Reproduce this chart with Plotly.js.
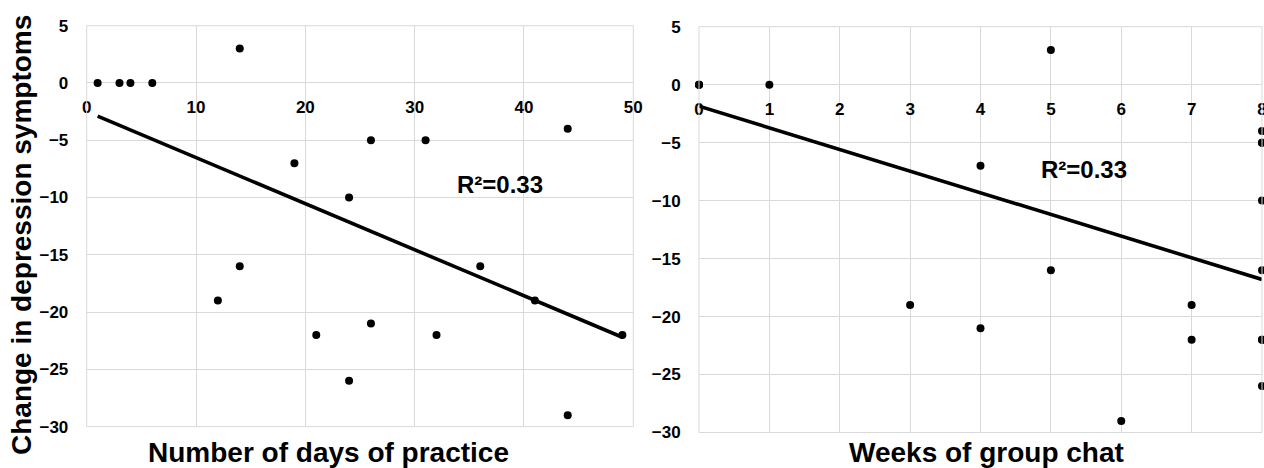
<!DOCTYPE html>
<html>
<head>
<meta charset="utf-8">
<script src="https://cdn.plot.ly/plotly-3.0.1.min.js"></script>
<style>html,body{margin:0;padding:0;background:#fff;}#chart{width:1264px;height:468px;}</style>
</head>
<body>
<div id="chart"></div>
<script>
// Left panel: number of days of practice vs change in depression symptoms
const daysPractice = [1, 3, 4, 6, 14, 19, 26, 31, 44, 24, 12, 14, 21, 26, 24, 32, 36, 41, 49, 44];
const changeDays   = [0, 0, 0, 0, 3, -7, -5, -5, -4, -10, -19, -16, -22, -21, -26, -22, -16, -19, -22, -29];
const trendDaysX = [1, 49];
const trendDaysY = [-2.9, -22.2];

// Right panel: weeks of group chat vs change in depression symptoms
const weeksChat   = [0, 0, 0, 1, 5, 4, 8, 8, 8, 8, 3, 4, 5, 6, 7, 7, 8, 8, 8, 8];
const changeWeeks = [0, 0, 0, 0, 3, -7, -4, -5, -5, -10, -19, -21, -16, -29, -19, -22, -16, -22, -22, -26];
const trendWeeksX = [0, 8];
const trendWeeksY = [-1.85, -16.8];

const r2Label = "R²=0.33";
const yTitle = "Change in depression symptoms";
const xTitleLeft = "Number of days of practice";
const xTitleRight = "Weeks of group chat";

const FONT = "Liberation Sans, Arial, sans-serif";
const grid = "#d9d9d9";
const W = 1264, H = 468;

const traces = [
  {x: daysPractice, y: changeDays, type: "scatter", mode: "markers", xaxis: "x", yaxis: "y",
   marker: {color: "#000", size: 8}, cliponaxis: false, hoverinfo: "x+y"},
  {x: trendDaysX, y: trendDaysY, type: "scatter", mode: "lines", xaxis: "x", yaxis: "y",
   line: {color: "#000", width: 3.6}, hoverinfo: "skip"},
  {x: weeksChat, y: changeWeeks, type: "scatter", mode: "markers", xaxis: "x2", yaxis: "y2",
   marker: {color: "#000", size: 8}, cliponaxis: false, hoverinfo: "x+y"},
  {x: trendWeeksX, y: trendWeeksY, type: "scatter", mode: "lines", xaxis: "x2", yaxis: "y2",
   line: {color: "#000", width: 3.6}, hoverinfo: "skip"}
];

const tickFont = {family: FONT, size: 17, color: "#000", weight: 700};

function xAx(domain, range, dtick, pos) {
  return {domain: domain, range: range, dtick: dtick, tick0: 0, anchor: "free", position: pos,
    showgrid: true, gridcolor: grid, gridwidth: 1, zeroline: false, showline: false,
    ticks: "outside", ticklen: 9, tickcolor: "rgba(0,0,0,0)", tickfont: tickFont,
    tickprefix: "<b>", ticksuffix: "</b>", ticklabeloverflow: "allow", fixedrange: true};
}
function yAx(domain, anchor) {
  return {domain: domain, range: [-30, 5], dtick: 5, tick0: 0, anchor: anchor,
    showgrid: true, gridcolor: grid, gridwidth: 1, zeroline: false, showline: false,
    ticks: "outside", ticklen: 14, tickcolor: "rgba(0,0,0,0)", tickfont: tickFont,
    tickprefix: "<b>", ticksuffix: "</b>", fixedrange: true};
}

const layout = {
  width: W, height: H, margin: {l: 0, r: 0, t: 0, b: 0},
  paper_bgcolor: "#fff", plot_bgcolor: "#fff", showlegend: false,
  font: {family: FONT, color: "#000"},
  xaxis: xAx([86.7 / W, 633.3 / W], [0, 50], 10, (H - 82.7) / H),
  yaxis: yAx([(H - 426.6) / H, (H - 25.7) / H], "x"),
  xaxis2: xAx([699 / W, 1262 / W], [0, 8], 1, (H - 85) / H),
  yaxis2: yAx([(H - 432.5) / H, (H - 26.7) / H], "x2"),
  shapes: [
    {type: "rect", xref: "x domain", yref: "y domain", x0: 0, x1: 1, y0: 0, y1: 1, line: {color: grid, width: 1}},
    {type: "rect", xref: "x2 domain", yref: "y2 domain", x0: 0, x1: 1, y0: 0, y1: 1, line: {color: grid, width: 1}}
  ],
  annotations: [
    {text: r2Label, xref: "x", yref: "y", x: 37.8, y: -8.9, showarrow: false,
     font: {family: FONT, size: 24, color: "#000", weight: "bold"}},
    {text: r2Label, xref: "x2", yref: "y2", x: 5.47, y: -7.33, showarrow: false,
     font: {family: FONT, size: 24, color: "#000", weight: "bold"}},
    {text: yTitle, xref: "paper", yref: "paper", x: 21 / W, y: (H - 235) / H, textangle: -90,
     showarrow: false, xanchor: "center", yanchor: "middle",
     font: {family: FONT, size: 28, color: "#000", weight: "bold"}},
    {text: xTitleLeft, xref: "paper", yref: "paper", x: 328.5 / W, y: (H - 452) / H,
     showarrow: false, xanchor: "center", yanchor: "middle",
     font: {family: FONT, size: 28, color: "#000", weight: "bold"}},
    {text: xTitleRight, xref: "paper", yref: "paper", x: 986 / W, y: (H - 452) / H,
     showarrow: false, xanchor: "center", yanchor: "middle",
     font: {family: FONT, size: 28, color: "#000", weight: "bold"}}
  ]
};

Plotly.newPlot("chart", traces, layout, {displayModeBar: false, staticPlot: true});
</script>
</body>
</html>
